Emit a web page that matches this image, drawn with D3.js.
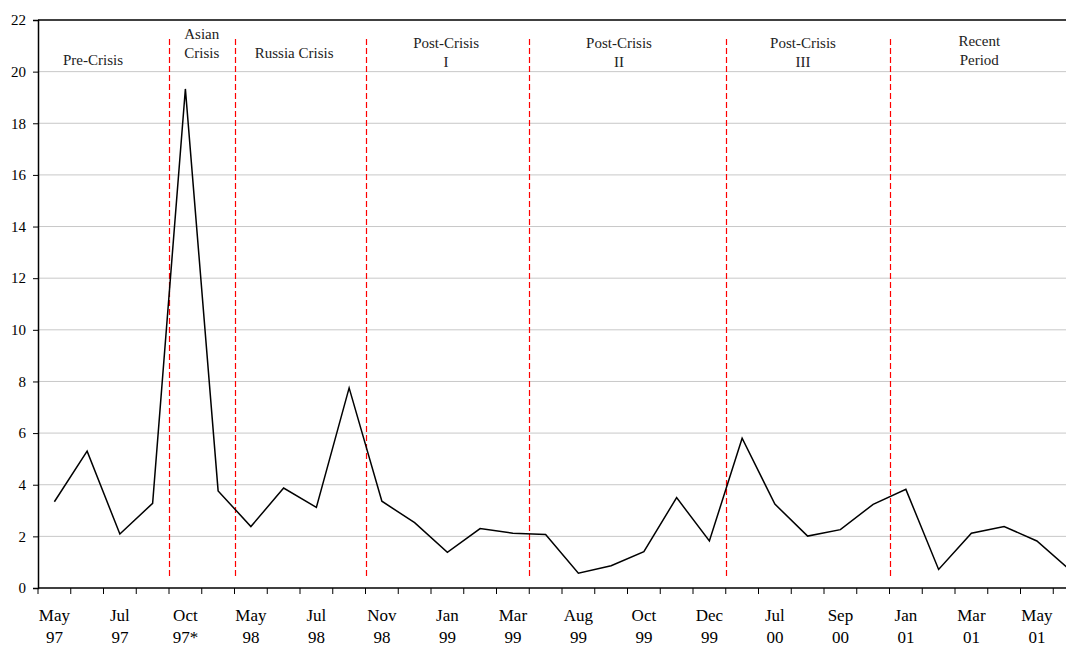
<!DOCTYPE html>
<html>
<head>
<meta charset="utf-8">
<script src="https://cdn.jsdelivr.net/npm/d3@7"></script>
<style>
  body { margin: 0; background: #fff; }
  svg, svg text { font-family: "Liberation Serif", "Times New Roman", serif; }
  svg { display: block; }
</style>
</head>
<body>
<div class="chart"></div>
<script>
// values, one per half-step on the x axis
var spreadValues = [3.34, 5.3, 2.09, 3.28, 19.33, 3.76, 2.38, 3.87, 3.12, 7.75,
                    3.36, 2.53, 1.38, 2.30, 2.12, 2.07, 0.57, 0.86, 1.41, 3.50,
                    1.82, 5.8, 3.25, 2.01, 2.26, 3.24, 3.82, 0.72, 2.12, 2.38,
                    1.82, 0.71];

// labels shown under every second point
var tickMonths = ["May", "Jul", "Oct", "May", "Jul", "Nov", "Jan", "Mar",
                  "Aug", "Oct", "Dec", "Jul", "Sep", "Jan", "Mar", "May"];
var tickYears  = ["97", "97", "97*", "98", "98", "98", "99", "99",
                  "99", "99", "99", "00", "00", "01", "01", "01"];

var yTicks = [0, 2, 4, 6, 8, 10, 12, 14, 16, 18, 20, 22];

// period breaks fall between these point indices
var periodBreaks = [4, 6, 10, 15, 21, 26];
var periodNames = [["Pre-Crisis"], ["Asian", "Crisis"], ["Russia Crisis"],
                   ["Post-Crisis", "I"], ["Post-Crisis", "II"],
                   ["Post-Crisis", "III"], ["Recent", "Period"]];

var svgWidth = 1066;
var svgHeight = 646;
var margin = { top: 20, left: 38 };
var bandW = 32.75;
var width = bandW * spreadValues.length;
var height = 568;

var svg = d3.select(".chart")
  .append("svg")
  .attr("width", svgWidth)
  .attr("height", svgHeight);

var chart = svg.append("g")
  .attr("transform", `translate(${margin.left}, ${margin.top})`);

var xScale = d3.scaleBand()
  .domain(d3.range(spreadValues.length))
  .range([0, width]);

var yScale = d3.scaleLinear().domain([0, 22]).range([height, 0]);

// gridlines
chart.append("g")
  .selectAll("line")
  .data(yTicks.slice(1, -1))
  .enter().append("line")
  .attr("x1", 0).attr("x2", width)
  .attr("y1", d => yScale(d)).attr("y2", d => yScale(d))
  .attr("stroke", "#c8c8c8")
  .attr("stroke-width", 1);

// top border
chart.append("line")
  .attr("x1", 0).attr("x2", width)
  .attr("y1", 0).attr("y2", 0)
  .attr("stroke", "#000").attr("stroke-width", 1.5);

// y axis
var yAxis = d3.axisLeft(yScale).tickValues(yTicks).tickSize(5).tickPadding(7);
var yG = chart.append("g").call(yAxis)
  .attr("font-family", null)
  .attr("font-size", 15);
yG.select(".domain").attr("stroke-width", 1.5);
yG.selectAll("text").attr("fill", "#000");

// x axis: ticks on the band edges
var edges = d3.range(spreadValues.length + 1);
var xG = chart.append("g").attr("transform", `translate(0, ${height})`);
xG.append("line")
  .attr("x1", 0).attr("x2", width)
  .attr("stroke", "#000").attr("stroke-width", 1.5);
xG.selectAll(".tick")
  .data(edges)
  .enter().append("line")
  .attr("x1", d => d * xScale.step()).attr("x2", d => d * xScale.step())
  .attr("y1", 0).attr("y2", 6)
  .attr("stroke", "#000").attr("stroke-width", 1);

var labels = xG.selectAll(".xlab")
  .data(tickMonths)
  .enter().append("text")
  .attr("text-anchor", "middle")
  .attr("font-size", 17)
  .attr("fill", "#000")
  .attr("transform", (d, i) => `translate(${xScale(i * 2) + xScale.bandwidth() / 2}, 0)`);
labels.append("tspan").attr("x", 0).attr("y", 33).text(d => d);
labels.append("tspan").attr("x", 0).attr("y", 55).text((d, i) => tickYears[i]);

// red dashed period separators
chart.append("g")
  .selectAll("line")
  .data(periodBreaks)
  .enter().append("line")
  .attr("x1", d => Math.round(xScale(d)) + 0.5).attr("x2", d => Math.round(xScale(d)) + 0.5)
  .attr("y1", yScale(21.26)).attr("y2", yScale(0.35))
  .attr("stroke", "#ff0000")
  .attr("stroke-width", 1.2)
  .attr("stroke-dasharray", "6,3");

// period names, centred in band units
var nameCentres = [1.68, 5.0, 7.82, 12.46, 17.74, 23.36, 28.74];
var nameTops = [65, 39, 58, 48, 48, 48, 46];
chart.append("g")
  .selectAll("text")
  .data(periodNames)
  .enter().append("text")
  .attr("text-anchor", "middle")
  .attr("font-size", 15)
  .attr("fill", "#222")
  .each(function(lines, i) {
    var t = d3.select(this);
    lines.forEach(function(s, j) {
      t.append("tspan")
        .attr("x", nameCentres[i] * xScale.step())
        .attr("y", nameTops[i] - margin.top + j * 18.5)
        .text(s);
    });
  });

// the series
var line = d3.line()
  .x((d, i) => xScale(i) + xScale.bandwidth() / 2)
  .y(d => yScale(d));

chart.append("path")
  .datum(spreadValues)
  .attr("d", line)
  .attr("fill", "none")
  .attr("stroke", "#000")
  .attr("stroke-width", 1.5);
</script>
</body>
</html>
